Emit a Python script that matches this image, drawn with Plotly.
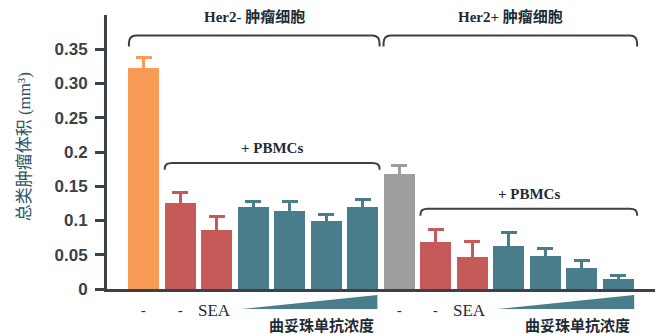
import plotly.graph_objects as go

# Bar groups: Her2- cells (0-6) and Her2+ cells (7-13)
categories = ["Her2- 对照", "Her2- PBMCs", "Her2- SEA", "Her2- T1", "Her2- T2", "Her2- T3", "Her2- T4",
              "Her2+ 对照", "Her2+ PBMCs", "Her2+ SEA", "Her2+ T1", "Her2+ T2", "Her2+ T3", "Her2+ T4"]
volumes = [0.322, 0.125, 0.086, 0.120, 0.114, 0.099, 0.120,
           0.168, 0.068, 0.047, 0.063, 0.048, 0.031, 0.015]
errors = [0.016, 0.016, 0.020, 0.008, 0.014, 0.010, 0.011,
          0.013, 0.019, 0.023, 0.019, 0.011, 0.011, 0.004]
bar_colors = ["#F99B57", "#C55A59", "#C55A59", "#4A7D8C", "#4A7D8C", "#4A7D8C", "#4A7D8C",
              "#9E9E9E", "#C55A59", "#C55A59", "#4A7D8C", "#4A7D8C", "#4A7D8C", "#4A7D8C"]
bottom_labels = ["-", "-", "SEA", "", "", "", "",
                 "-", "-", "SEA", "", "", "", ""]
group_titles = ["Her2- 肿瘤细胞", "Her2+ 肿瘤细胞"]
y_ticks = [0, 0.05, 0.1, 0.15, 0.2, 0.25, 0.30, 0.35]
y_ticktext = ["0", "0.05", "0.1", "0.15", "0.2", "0.25", "0.30", "0.35"]

AXIS = "#3B4149"
TEXT = "#1E2C36"
SERIF = "Liberation Serif, Noto Sans CJK SC, serif"

fig = go.Figure()
for i, (cat, v, e, c) in enumerate(zip(categories, volumes, errors, bar_colors)):
    fig.add_trace(go.Bar(
        x=[i], y=[v], width=0.85, marker=dict(color=c, line=dict(width=0)),
        error_y=dict(type="data", array=[e], symmetric=True,
                     color=c, thickness=3, width=8),
        name=cat, showlegend=False,
    ))


def bracket(x0, x1, yt, yb, dx, dy):
    return (f"M {x0},{yb} L {x0},{yt - dy} Q {x0},{yt} {x0 + dx},{yt} "
            f"L {x1 - dx},{yt} Q {x1},{yt} {x1},{yt - dy} L {x1},{yb}")


shapes = []
annotations = []

# Group brackets across the top
group_spans = [(0, 6), (7, 13)]
for (a, b), title in zip(group_spans, group_titles):
    x0 = a - (0.40 if a == 0 else 0.43)
    x1 = b + (0.46 if a == 0 else 0.51)
    shapes.append(dict(type="path", xref="x", yref="y",
                       path=bracket(x0, x1, 0.370, 0.354, 0.2, 0.011),
                       line=dict(color=AXIS, width=2)))
    annotations.append(dict(x=(x0 + x1) / 2, y=0.3975, xref="x", yref="y", text=title,
                            showarrow=False, yanchor="middle",
                            font=dict(family=SERIF, size=15, color=TEXT, weight="bold")))

# "+ PBMCs" brackets
pbmc_spans = [(1, 6, 0.184, 0.174), (8, 13, 0.117, 0.107)]
for a, b, yt, yb in pbmc_spans:
    x0 = a - 0.42
    x1 = b + (0.46 if a < 7 else 0.51)
    shapes.append(dict(type="path", xref="x", yref="y",
                       path=bracket(x0, x1, yt, yb, 0.2, 0.008),
                       line=dict(color=AXIS, width=2)))
    annotations.append(dict(x=(x0 + x1) / 2, y=yt + 0.022, xref="x", yref="y", text="+ PBMCs",
                            showarrow=False, yanchor="middle",
                            font=dict(family=SERIF, size=15, color=TEXT, weight="bold")))

# Labels below the bars
for i, lab in enumerate(bottom_labels):
    if lab:
        annotations.append(dict(x=i + (0.0 if lab == "-" else -0.07), y=-0.077, xref="x", yref="paper",
                                text=lab, showarrow=False, xanchor="center", yanchor="middle",
                                font=dict(family=SERIF, size=17 if lab == "SEA" else 14, color=TEXT)))

# Concentration wedges
for a, b in [(3, 6), (10, 13)]:
    x0 = a - 0.31
    x1 = b + (0.40 if a < 7 else 0.43)
    shapes.append(dict(type="path", xref="x", yref="paper",
                       path=f"M {x0},-0.073 L {x1},-0.073 L {x1},-0.022 Z",
                       fillcolor="#4A7D8C", line=dict(width=0)))
    annotations.append(dict(x=(x0 + x1) / 2 + 0.32, y=-0.13, xref="x", yref="paper",
                            text="曲妥珠单抗浓度", showarrow=False,
                            xanchor="center", yanchor="middle",
                            font=dict(family="Noto Sans CJK SC", size=15, color=TEXT, weight="bold")))

# Y-axis title
annotations.append(dict(x=-0.15, y=0.52, xref="paper", yref="paper", textangle=-90,
                        text="总类肿瘤体积 (mm³)",
                        showarrow=False, xanchor="center", yanchor="middle",
                        font=dict(family="Liberation Serif, Noto Sans CJK SC", size=17, color="#2D5566")))

fig.update_layout(
    width=661, height=335,
    margin=dict(l=107, r=6, t=15, b=46),
    plot_bgcolor="white", paper_bgcolor="white",
    bargap=0, shapes=shapes, annotations=annotations,
    xaxis=dict(range=[-1, 14], showticklabels=False, ticks="", showgrid=False, zeroline=False,
               showline=True, linecolor=AXIS, linewidth=3),
    yaxis=dict(range=[0, 0.4], tickvals=y_ticks, ticktext=y_ticktext, ticks="outside",
               ticklen=9, tickwidth=2.5, tickcolor=AXIS, showgrid=False, zeroline=False,
               showline=True, linecolor=AXIS, linewidth=3, ticklabelstandoff=4,
               tickfont=dict(family="Liberation Sans, Arial", size=17, color=AXIS, weight="bold")),
)

fig.write_html("out.html")
